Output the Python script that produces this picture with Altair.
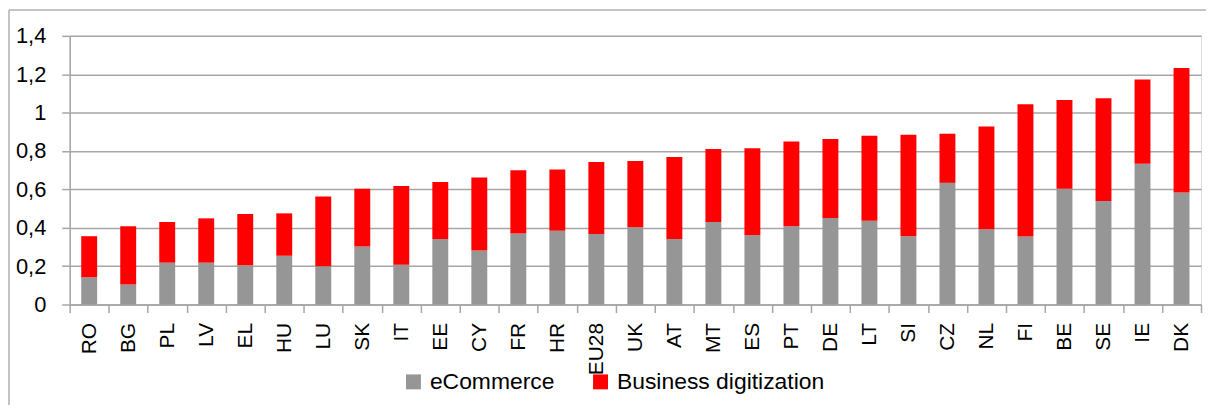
import altair as alt
import pandas as pd

countries = ["RO", "BG", "PL", "LV", "EL", "HU", "LU", "SK", "IT", "EE", "CY", "FR", "HR", "EU28",
             "UK", "AT", "MT", "ES", "PT", "DE", "LT", "SI", "CZ", "NL", "FI", "BE", "SE", "IE", "DK"]
ecommerce = [0.142, 0.104, 0.218, 0.218, 0.204, 0.254, 0.200, 0.302, 0.207, 0.342, 0.282, 0.370, 0.384, 0.368,
             0.403, 0.342, 0.430, 0.361, 0.408, 0.451, 0.437, 0.356, 0.634, 0.392, 0.354, 0.603, 0.539, 0.733, 0.584]
totals = [0.356, 0.408, 0.430, 0.449, 0.472, 0.475, 0.563, 0.603, 0.617, 0.639, 0.662, 0.700, 0.703, 0.743,
          0.748, 0.769, 0.811, 0.814, 0.849, 0.862, 0.880, 0.885, 0.890, 0.928, 1.044, 1.066, 1.075, 1.172, 1.232]
business = [round(t - e, 3) for t, e in zip(totals, ecommerce)]
series = ["eCommerce", "Business digitization"]
colors = ["#969696", "#ff0000"]

rows = []
for c, e, b in zip(countries, ecommerce, business):
    rows.append({"country": c, "series": series[0], "value": e, "order": 0})
    rows.append({"country": c, "series": series[1], "value": b, "order": 1})
df = pd.DataFrame(rows)

W, H = 1137, 270
FONT = "Liberation Sans"
GRID = "#a6a6a6"

bars = alt.Chart(df).mark_bar(size=16).encode(
    x=alt.X("country:N", sort=countries, title=None,
            scale=alt.Scale(paddingInner=0, paddingOuter=0),
            axis=alt.Axis(labelAngle=270, labelAlign="right", labelBaseline="middle",
                          labelFontSize=21, labelFont=FONT, labelColor="#000000",
                          labelPadding=10, tickSize=8, tickBand="extent",
                          tickColor=GRID, tickWidth=1.5, domainColor=GRID, domainWidth=1.5,
                          grid=False)),
    y=alt.Y("value:Q", stack="zero", title=None,
            scale=alt.Scale(domain=[0, 1.4], nice=False),
            axis=alt.Axis(values=[0, 0.2, 0.4, 0.6, 0.8, 1.0, 1.2, 1.4],
                          labelExpr="replace(format(datum.value, '.2~f'), '.', ',')",
                          labelFontSize=22, labelFont=FONT, labelColor="#000000",
                          labelPadding=16, tickSize=8, tickColor=GRID, tickWidth=1.5,
                          domainColor=GRID, domainWidth=1.5,
                          grid=True, gridColor=GRID, gridWidth=1.5)),
    color=alt.Color("series:N", scale=alt.Scale(domain=series, range=colors),
                    sort=series,
                    legend=alt.Legend(title=None, orient="none", direction="horizontal",
                                      legendX=334, legendY=336, symbolType="square",
                                      symbolSize=225, symbolStrokeWidth=0,
                                      labelFontSize=23, labelFont=FONT, labelColor="#000000",
                                      labelOffset=5, columnPadding=34, padding=0,
                                      labelLimit=0)),
    order=alt.Order("order:Q", sort="ascending"),
)

frame_df = pd.DataFrame({"k": [0]})
frame_left = alt.Chart(frame_df).mark_rule(color="#b0b0b0", strokeWidth=1.5).encode(
    x=alt.value(-61), y=alt.value(-26), y2=alt.value(380))
frame_top = alt.Chart(frame_df).mark_rule(color="#b0b0b0", strokeWidth=1.5).encode(
    x=alt.value(-61), x2=alt.value(1150), y=alt.value(-26))

chart = alt.layer(bars, frame_left, frame_top).properties(
    width=W, height=H,
    autosize=alt.AutoSizeParams(type="none"),
    padding={"left": 62, "top": 27, "right": 5, "bottom": 100},
).configure_view(stroke=None).configure(background="white")

chart.save("out.html", embed_options={"renderer": "svg", "actions": False})
